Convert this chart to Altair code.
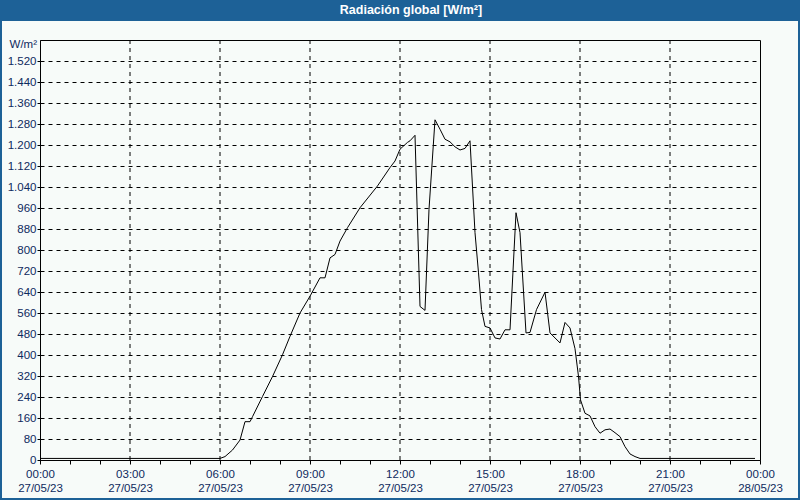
import altair as alt
import pandas as pd

times = ["00:00", "06:00", "06:10", "06:25", "06:40", "06:50", "07:00", "07:05", "07:25", "07:45",
         "08:05", "08:20", "08:40", "09:00", "09:20", "09:30", "09:40", "09:50", "10:00", "10:15",
         "10:40", "11:15", "11:40", "11:50", "12:00", "12:15", "12:20", "12:30", "12:40", "12:50",
         "12:58", "13:10", "13:20", "13:30", "13:40", "13:50", "14:00", "14:10", "14:20", "14:30",
         "14:37", "14:43", "14:50", "15:00", "15:10", "15:20", "15:30", "15:40", "15:52", "16:00",
         "16:12", "16:20", "16:33", "16:50", "17:00", "17:20", "17:30", "17:40", "17:50", "17:57",
         "18:01", "18:10", "18:20", "18:30", "18:40", "18:50", "19:00", "19:10", "19:20", "19:30",
         "19:40", "19:50", "20:00", "23:50"]
values = [6, 6, 13, 38, 76, 146, 146, 165, 242, 318,
          401, 471, 560, 624, 694, 694, 770, 783, 834, 885,
          961, 1044, 1114, 1139, 1184, 1210, 1216, 1237, 585, 570,
          955, 1296, 1260, 1222, 1212, 1193, 1181, 1187, 1216, 866,
          713, 573, 509, 503, 465, 461, 496, 496, 942, 866,
          484, 486, 573, 639, 484, 446, 524, 503, 424, 318,
          229, 178, 168, 127, 102, 115, 118, 104, 89, 51,
          23, 13, 6, 6]

y_ticks = list(range(0, 1521, 80))
x_ticks = list(range(0, 25))
v_grid = [3, 6, 9, 12, 15, 18, 21]

title_text = "Radiación global [W/m²]"
unit_text = "W/m²"

BG = "#f7fbf9"
BLUE = "#1d6197"
NAVY = "#0e2a5e"
FONT = "Liberation Sans"

hours = [int(t[:2]) + int(t[3:]) / 60 for t in times]
df = pd.DataFrame({"h": hours, "v": values})

xscale = alt.Scale(domain=[0, 24], nice=False, zero=False)
yscale = alt.Scale(domain=[0, 1600], nice=False)

label_expr_x = ("datum.value == 24 ? ['00:00', '28/05/23'] : "
                "(datum.value % 3 == 0 ? [(datum.value < 10 ? '0' : '') + datum.value + ':00', '27/05/23'] : '')")

x_axis = alt.Axis(values=x_ticks, labelExpr=label_expr_x, title=None, grid=False,
                  labelOverlap=False, labelFlush=False, labelBound=False, tickSize=4, labelPadding=4,
                  labelLineHeight=14, labelFontSize=11.5, labelColor=NAVY, labelFont=FONT,
                  domainColor="black", tickColor="black")

line = alt.Chart(df).mark_line(color="black", strokeWidth=1).encode(
    x=alt.X("h:Q", scale=xscale, axis=x_axis),
    y=alt.Y("v:Q", scale=yscale,
            axis=alt.Axis(values=y_ticks, labelExpr="replace(format(datum.value, ','), ',', '.')",
                          title=None, grid=True, gridDash=[4, 4], gridColor="black", gridOpacity=1,
                          labelOverlap=False, labelFlush=False, tickSize=3, labelPadding=1,
                          labelFontSize=11.5, labelColor=NAVY, labelFont=FONT,
                          domainColor="black", tickColor="black")),
)

vgrid = alt.Chart(pd.DataFrame({"g": v_grid})).mark_rule(
    color="black", strokeDash=[4, 4], strokeWidth=1
).encode(x=alt.X("g:Q", scale=xscale, axis=x_axis))

one = alt.Data(values=[{}])

def rect(x, x2, y, y2):
    return alt.Chart(one).mark_rect(color=BLUE).encode(
        x=alt.value(x), x2=alt.value(x2), y=alt.value(y), y2=alt.value(y2))

frame = [
    rect(-40, 760, -40, -19),
    rect(-40, -38, -40, 460),
    rect(758, 760, -40, 460),
    rect(-40, 760, 458, 460),
]

title = alt.Chart(one).mark_text(
    color="white", fontWeight="bold", fontSize=12.5, font=FONT, align="center", baseline="middle"
).encode(x=alt.value(371), y=alt.value(-30), text=alt.value(title_text))

unit = alt.Chart(one).mark_text(
    color=NAVY, fontSize=11.5, font=FONT, align="right", baseline="middle"
).encode(x=alt.value(-3), y=alt.value(5), text=alt.value(unit_text))

chart = alt.layer(vgrid, line, *frame, title, unit).properties(
    width=720, height=420,
    autosize=alt.AutoSizeParams(type="none"),
    padding={"left": 40, "top": 40, "right": 40, "bottom": 40},
    background=BG,
).configure_view(stroke="black", strokeWidth=1, fill=BG)

chart.save("out.html", embed_options={"renderer": "svg", "actions": False})
